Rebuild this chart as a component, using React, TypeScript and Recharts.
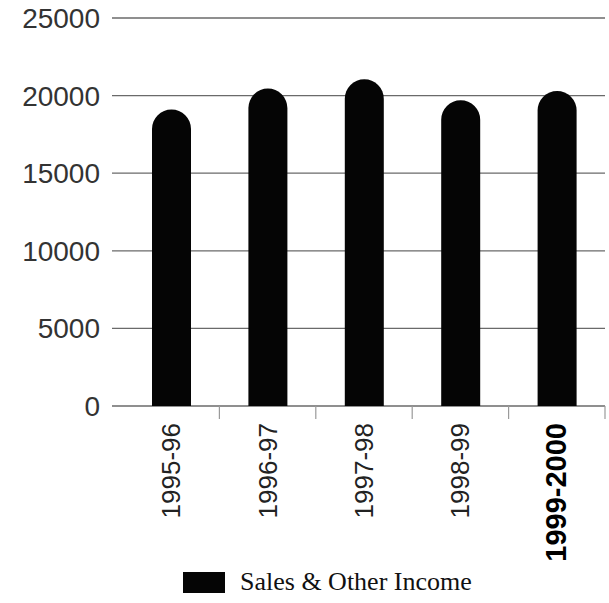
import { BarChart, Bar, CartesianGrid, XAxis, YAxis, Legend } from "recharts";

const years = ["1995-96", "1996-97", "1997-98", "1998-99", "1999-2000"];
const salesIncome = [19100, 20450, 21050, 19700, 20300];
const yTicks = [0, 5000, 10000, 15000, 20000, 25000];
const boundaryTicks = [1, 2, 3, 4, 5];

const data = years.map((year, i) => ({ year, sales: salesIncome[i], slot: i + 0.5 }));

const sans = "'Liberation Sans', Arial, sans-serif";
const serif = "'Liberation Serif', 'Times New Roman', serif";

function YearTick({ x, y, payload, index }: any) {
  const last = index === years.length - 1;
  const tx = x + 9;
  const ty = y + 8;
  return (
    <text
      x={tx}
      y={ty}
      transform={`rotate(-90, ${tx}, ${ty})`}
      textAnchor="end"
      fontFamily={sans}
      fontSize={last ? 29 : 26}
      fontWeight={last ? 700 : 400}
      fill={last ? "#000" : "#222"}
    >
      {payload.value}
    </text>
  );
}

// blank tick text: only the short tick marks between categories are wanted
const NoLabel = () => <g />;

function LegendBox() {
  return (
    <div style={{ position: "relative", height: 44 }}>
      <div style={{ position: "absolute", left: 183, top: 13, width: 42, height: 21, background: "#050505" }} />
      <span
        style={{
          position: "absolute", left: 240, top: 8, fontFamily: serif, fontSize: 26,
          color: "#111", lineHeight: "30px", whiteSpace: "nowrap",
        }}
      >
        Sales &amp; Other Income
      </span>
    </div>
  );
}

export default function App() {
  return (
    <div style={{ position: "absolute", left: 0, top: 0, width: 609, height: 603, background: "#fff" }}>
      <BarChart width={609} height={603} data={data} margin={{ top: 18, right: 4, left: 0, bottom: 0 }}>
        <CartesianGrid vertical={false} stroke="#6a6a6a" strokeWidth={1.3} />
        <XAxis
          xAxisId="years"
          dataKey="year"
          height={152}
          padding={{ left: 11 }}
          axisLine={false}
          tickLine={false}
          interval={0}
          tick={<YearTick />}
        />
        <XAxis
          xAxisId="a-edges"
          type="number"
          dataKey="slot"
          domain={[0, 5]}
          ticks={boundaryTicks}
          padding={{ left: 11 }}
          height={1}
          axisLine={false}
          tick={<NoLabel />}
          tickSize={13}
          tickLine={{ stroke: "#9a9a9a", strokeWidth: 1.2 }}
        />
        <YAxis
          domain={[0, 25000]}
          ticks={yTicks}
          width={112}
          axisLine={false}
          tickLine={false}
          tickSize={0}
          tickMargin={12}
          tick={{ fontFamily: sans, fontSize: 28, fill: "#333" }}
        />
        <Legend verticalAlign="bottom" height={44} wrapperStyle={{ left: 0, width: 609 }} content={<LegendBox />} />
        <Bar
          xAxisId="years"
          dataKey="sales"
          fill="#050505"
          barSize={39}
          radius={[19.5, 19.5, 0, 0]}
          isAnimationActive={false}
        />
      </BarChart>
    </div>
  );
}
